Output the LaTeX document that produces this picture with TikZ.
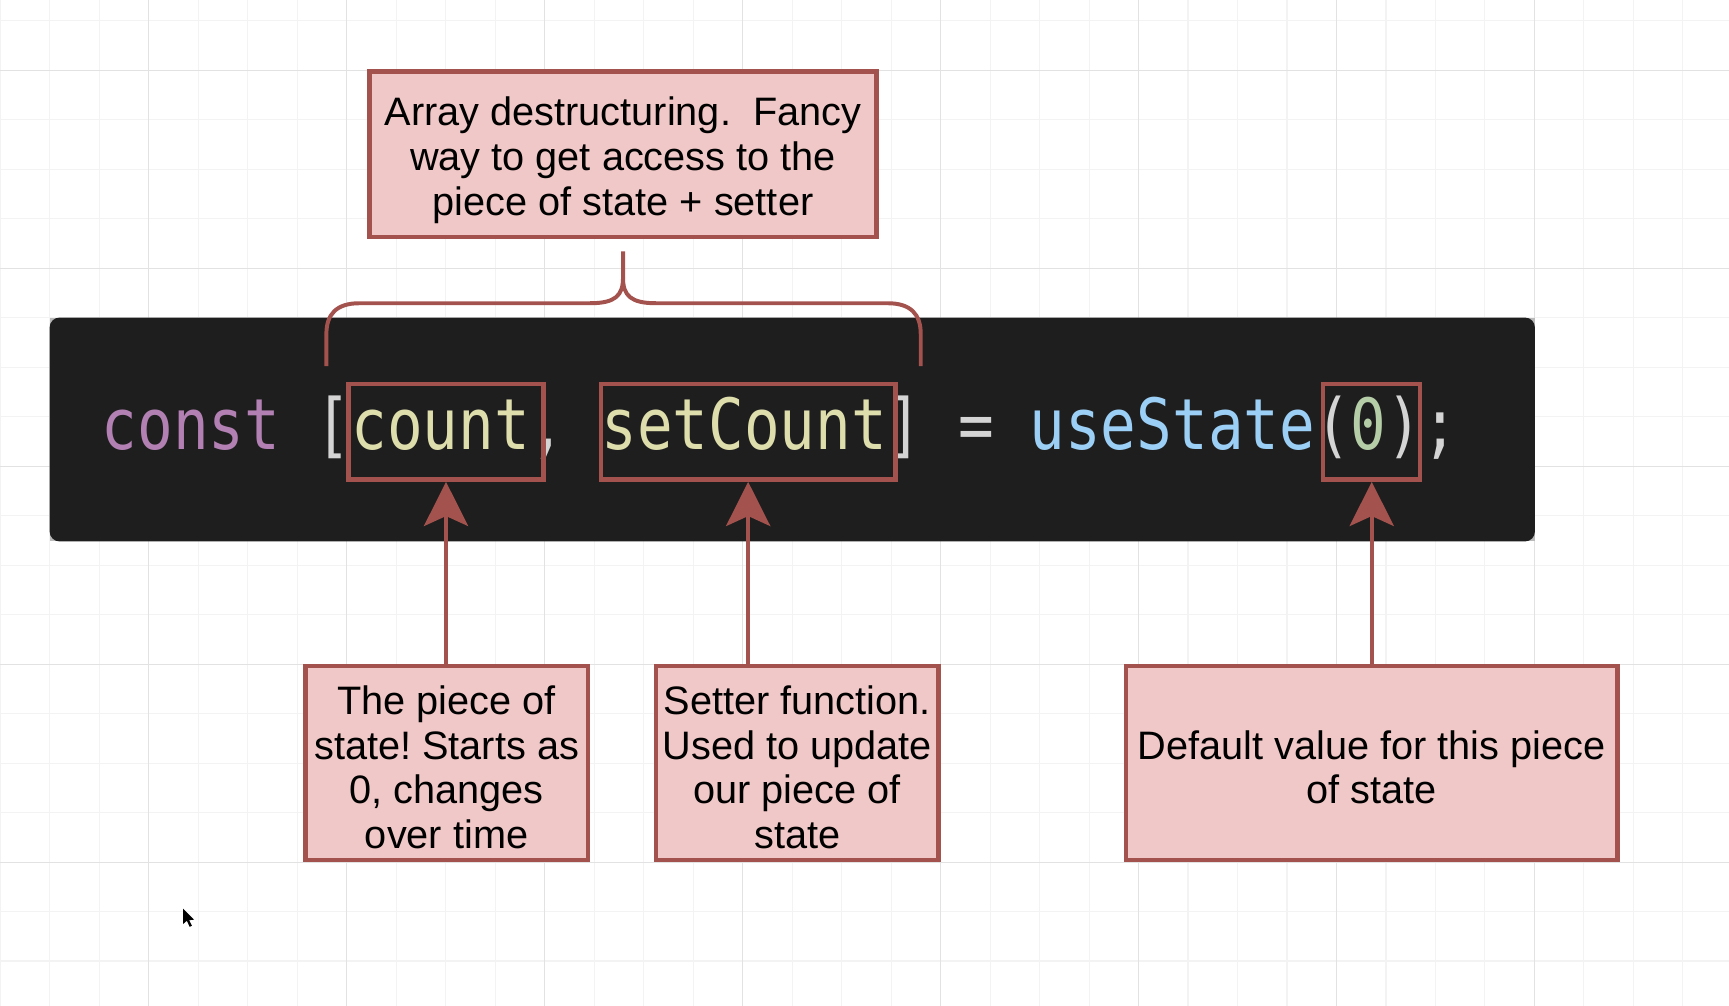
\documentclass[tikz,border=0pt]{standalone}
\usepackage{fontspec}
\setmainfont{Liberation Sans}
\newfontfamily\codefont[FakeStretch=0.84]{DejaVu Sans Mono}
\usetikzlibrary{arrows.meta}
\frenchspacing

\definecolor{noteborder}{RGB}{163,82,77}
\definecolor{notefill}{RGB}{240,200,199}
\definecolor{codebg}{RGB}{30,30,30}
\definecolor{kwcol}{RGB}{178,128,178}
\definecolor{punctcol}{RGB}{212,212,212}
\definecolor{varcol}{RGB}{222,221,172}
\definecolor{fncol}{RGB}{156,207,245}
\definecolor{numcol}{RGB}{181,206,168}
\definecolor{gridminor}{RGB}{243,243,243}
\definecolor{gridmajor}{RGB}{226,226,226}

\begin{document}
\begin{tikzpicture}[x=1pt,y=-1pt]
					\tikzstyle{note}=[draw=noteborder,fill=notefill,line width=4pt,align=center,inner sep=0pt,font=\fontsize{36}{40.5}\selectfont]
					\tikzstyle{hilite}=[draw=noteborder,line width=4pt,inner sep=0pt,minimum height=87pt]
					\tikzstyle{pointer}=[draw=noteborder,line width=3.6pt,-{Stealth[length=40pt,width=40pt,inset=9pt]}]
					\tikzstyle{bracket}=[draw=noteborder,line width=3.6pt]
					\useasboundingbox (0,0) rectangle (1568,912);
					\fill[white] (0,0) rectangle (1568,912);
					% background grid
					\foreach \i in {0,...,34} \draw[gridminor,line width=1pt] ({0.4+44.875*\i},0) -- ++(0,912);
					\foreach \i in {0,...,20} \draw[gridminor,line width=1pt] (0,{18.9+44.875*\i}) -- ++(1568,0);
					\foreach \i in {0,...,7} \draw[gridmajor,line width=1pt] ({135+179.5*\i},0) -- ++(0,912);
					\foreach \i in {0,...,4} \draw[gridmajor,line width=1pt] (0,{63.8+179.5*\i}) -- ++(1568,0);
					% code panel
					\fill[gray!55] (45,288) rectangle (1392,491);
					\fill[codebg,rounded corners=9pt] (45,288) rectangle (1392,491);
					\node[anchor=base west,inner sep=0pt,font=\codefont\fontsize{64}{64}\selectfont] (code) at (92,408) {\textcolor{kwcol}{const} \textcolor{punctcol}{[}\textcolor{varcol}{count}\textcolor{punctcol}{,} \textcolor{varcol}{setCount}\textcolor{punctcol}{]} \textcolor{punctcol}{=} \textcolor{fncol}{useState}\textcolor{punctcol}{(}\textcolor{numcol}{0}\textcolor{punctcol}{);}};
					\node[hilite,minimum width=177pt] (countbox) at (404.5,391.5) {};
					\node[hilite,minimum width=267pt] (setbox) at (678.5,391.5) {};
					\node[hilite,minimum width=88pt] (zerobox) at (1244,391.5) {};
					% notes
					\node[note,minimum width=460pt,minimum height=150pt] (destr) at (565,140) {\rule{0pt}{36.5pt}Array destructuring.\ \ Fancy\\way to get access to the\\piece of state + setter};
					\node[note,minimum width=256pt,minimum height=176pt] (piece) at (405,692) {\rule{0pt}{34pt}The piece of\\state! Starts as\\0, changes\\over time};
					\node[note,minimum width=256pt,minimum height=176pt] (setter) at (723,692) {\rule{0pt}{34pt}Setter function.\\Used to update\\our piece of\\state};
					\node[note,minimum width=446pt,minimum height=176pt] (default) at (1244,692) {\rule{0pt}{34pt}Default value for this piece\\of state};
					% brace
					\draw[bracket] (296,332) -- (296,303) .. controls (296,285) and (305,275) .. (326,275) -- (535,275) .. controls (558,275) and (565,268) .. (565,252) -- (565,228);
					\draw[bracket] (835,332) -- (835,303) .. controls (835,285) and (826,275) .. (805,275) -- (595,275) .. controls (572,275) and (565,268) .. (565,252);
					% pointers
					\draw[pointer] (piece.north -| countbox.south) -- (countbox.south);
					\draw[pointer] (setter.north -| setbox.south) -- (setbox.south);
					\draw[pointer] (default.north -| zerobox.south) -- (zerobox.south);
					% mouse cursor
					\fill[black] (166,824) -- (166,838) -- (169.5,835) -- (172,840.5) -- (174,839.5) -- (171.5,834.5) -- (176,834) -- cycle;
\end{tikzpicture}
\end{document}
